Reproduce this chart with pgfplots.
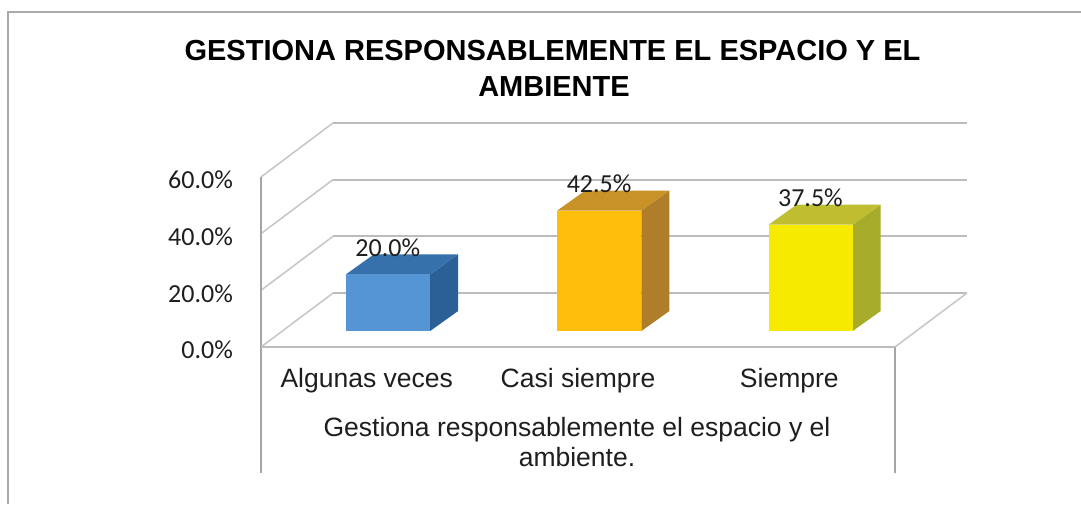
\documentclass[border=0pt]{standalone}
\usepackage{fontspec}
\setmainfont{Liberation Sans}
\newfontfamily\calibri{Carlito}
\usepackage{pgfplots}
\usepackage{pgfplotstable}
\pgfplotsset{compat=1.18}

\definecolor{gridc}{RGB}{188,188,188}
\definecolor{sidec}{RGB}{200,200,200}
\definecolor{boxc}{RGB}{165,165,165}
\definecolor{borderc}{RGB}{170,170,170}
\definecolor{txt}{RGB}{30,30,30}
\definecolor{bfront}{RGB}{86,149,211}
\definecolor{bside}{RGB}{42,96,150}
\definecolor{btop}{RGB}{55,113,172}
\definecolor{ofront}{RGB}{255,190,12}
\definecolor{oside}{RGB}{176,126,42}
\definecolor{otop}{RGB}{200,146,38}
\definecolor{yfront}{RGB}{245,234,0}
\definecolor{yside}{RGB}{166,172,42}
\definecolor{ytop}{RGB}{190,190,48}

% data
\pgfplotstableread{
x val
0 20.0
1 42.5
2 37.5
}\datatable

% unit vertices of the 3D bar faces: x offset a, base c, multiplier b of the value
\pgfplotstableread{
a c b
-0.098 5.64 0
0.300 5.64 0
0.300 5.64 1
-0.098 5.64 1
}\frontface
\pgfplotstableread{
a c b
0.300 5.64 0
0.4325 12.69 0
0.4325 12.69 1
0.300 5.64 1
}\sideface
\pgfplotstableread{
a c b
-0.098 5.64 1
0.300 5.64 1
0.4325 12.69 1
0.0345 12.69 1
}\topface

\pgfplotstablegetelem{0}{val}\of\datatable \let\vA\pgfplotsretval
\pgfplotstablegetelem{1}{val}\of\datatable \let\vB\pgfplotsretval
\pgfplotstablegetelem{2}{val}\of\datatable \let\vC\pgfplotsretval

\newcommand{\cube}[5]{%
  \addplot[draw=none, fill=#4] table[x expr=#1+\thisrow{a}, y expr=\thisrow{c}+\thisrow{b}*#2] {\sideface};
  \addplot[draw=none, fill=#5] table[x expr=#1+\thisrow{a}, y expr=\thisrow{c}+\thisrow{b}*#2] {\topface};
  \addplot[draw=none, fill=#3] table[x expr=#1+\thisrow{a}, y expr=\thisrow{c}+\thisrow{b}*#2] {\frontface};
}

\begin{document}
\begin{tikzpicture}
\begin{axis}[
  x=211.3pt, y=2.835pt,
  xmin=-0.5, xmax=2.5, ymin=0, ymax=60,
  clip=false,
  axis line style={draw=none},
  tick style={draw=none},
  major tick length=0pt,
  xtick={0,1,2},
  xticklabels={Algunas veces, Casi siempre, Siempre},
  xticklabel style={anchor=base, inner sep=0pt, yshift=-40pt, text=txt,
    font=\fontsize{26.5}{30}\selectfont},
  ytick={0,20,40,60},
  yticklabels={0.0\%,20.0\%,40.0\%,60.0\%},
  yticklabel style={anchor=east, inner sep=0pt, xshift=-28pt, yshift=-3pt, text=txt,
    font=\calibri\fontsize{26}{30}\selectfont},
]
% back wall gridlines
\addplot[gridc, line width=2pt] coordinates {(-0.159,19.05) (2.841,19.05)};
\addplot[gridc, line width=2pt] coordinates {(-0.159,39.05) (2.841,39.05)};
\addplot[gridc, line width=2pt] coordinates {(-0.159,59.05) (2.841,59.05)};
\addplot[gridc, line width=2pt] coordinates {(-0.159,79.05) (2.841,79.05)};
% side wall
\addplot[sidec, line width=1.6pt] coordinates {(-0.5,0) (-0.159,19.05)};
\addplot[sidec, line width=1.6pt] coordinates {(-0.5,20) (-0.159,39.05)};
\addplot[sidec, line width=1.6pt] coordinates {(-0.5,40) (-0.159,59.05)};
\addplot[sidec, line width=1.6pt] coordinates {(-0.5,60) (-0.159,79.05)};
% floor
\addplot[sidec, line width=1.6pt] coordinates {(2.5,0) (2.841,19.05)};
% category box and side wall front edge
\addplot[boxc, line width=1.3pt] coordinates {(-0.5,60) (-0.5,-44.44)};
\addplot[boxc, line width=1.3pt] coordinates {(2.5,0) (2.5,-44.44)};
\addplot[gridc, line width=2pt] coordinates {(-0.5,0) (2.5,0)};
% bars
\cube{0}{\vA}{bfront}{bside}{btop}
\cube{1}{\vB}{ofront}{oside}{otop}
\cube{2}{\vC}{yfront}{yside}{ytop}
% data labels
\addplot[draw=none, mark=none, point meta=\thisrow{val},
  nodes near coords={\pgfmathprintnumber[assume math mode=true,fixed,fixed zerofill,precision=1]{\pgfplotspointmeta}\%},
  nodes near coords style={anchor=center, inner sep=0pt, text=txt, font=\calibri\fontsize{26}{30}\selectfont}]
  table[x expr=\thisrow{x}+0.10, y expr=\thisrow{val}+15] {\datatable};
\coordinate (O) at (axis cs:0,0);
\end{axis}
\begin{scope}[shift={(O)}, x=1pt, y=-1pt, shift={(-366.7,-347)}]
  \draw[borderc, line width=1.5pt] (8,504) -- (8,12) -- (1081,12);
  \node[anchor=base, inner sep=0pt, text=black, font=\bfseries\fontsize{29}{35}\selectfont] at (552.5,61) {GESTIONA RESPONSABLEMENTE EL ESPACIO Y EL};
  \node[anchor=base, inner sep=0pt, text=black, font=\bfseries\fontsize{29}{35}\selectfont] at (554,96) {AMBIENTE};
  \node[anchor=base, inner sep=0pt, text=txt, font=\fontsize{26.5}{30}\selectfont] at (577,436) {Gestiona responsablemente el espacio y el};
  \node[anchor=base, inner sep=0pt, text=txt, font=\fontsize{26.5}{30}\selectfont] at (577,466) {ambiente.};
\end{scope}
\pgfresetboundingbox
\path (O) ++(-366.7pt,-157pt) rectangle ++(1081pt,504pt);
\end{tikzpicture}
\end{document}
